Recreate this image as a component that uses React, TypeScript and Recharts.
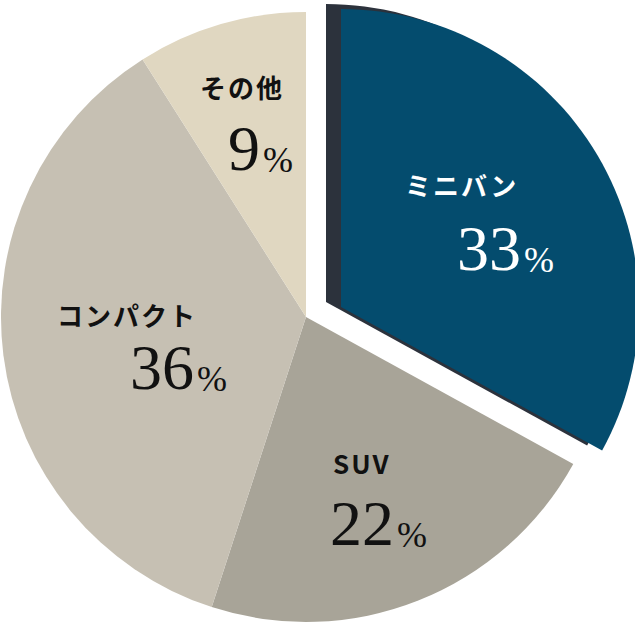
import { PieChart, Pie, Cell } from 'recharts';

// share by body type (%), clockwise from 12 o'clock
const categories = ['ミニバン', 'SUV', 'コンパクト', 'その他'];
const shares = [33, 22, 36, 9];

const data = categories.map((name, i) => ({ name, value: shares[i] }));

const COLORS = ['#044c6e', '#a8a498', '#c6c0b3', '#e0d7c1'];
const SHADOW = '#2c323c';
const EXPLODED = 0; // index of the pulled-out slice

// label placement relative to the centre of the pie that draws it
const LABEL_POS: { [k: number]: { nx: number; ny: number; vx: number; vy: number } } = {
  0: { nx: 64, ny: -111, vx: 116, vy: -37 },
  1: { nx: 27, ny: 157, vx: 24, vy: 228 },
  2: { nx: -249, ny: 9, vx: -176, vy: 72 },
  3: { nx: -106, ny: -219, vx: -78, vy: -147 },
};

const renderLabel = (only: (i: number) => boolean, light: boolean) => (props: any) => {
  const { cx, cy, index } = props;
  if (!only(index)) return null;
  const p = LABEL_POS[index];
  const fill = light ? '#ffffff' : '#111111';
  return (
    <g key={`lbl-${index}`}>
      <text
        x={cx + p.nx}
        y={cy + p.ny}
        fill={fill}
        fontFamily="'Noto Sans CJK JP', 'Noto Sans', sans-serif"
        fontWeight={700}
        fontSize={26}
        letterSpacing={2}
        textAnchor="start"
      >
        {categories[index]}
      </text>
      <text
        x={cx + p.vx}
        y={cy + p.vy}
        fill={fill}
        fontFamily="'Liberation Serif', serif"
        textAnchor="start"
      >
        <tspan fontSize={64}>{shares[index]}</tspan>
        <tspan fontSize={36} dx={3} dy={2}>%</tspan>
      </text>
    </g>
  );
};

export default function App() {
  return (
    <div style={{ position: 'absolute', left: 0, top: 0, width: 635, height: 623, background: '#ffffff' }}>
      <PieChart width={635} height={623} margin={{ top: 0, right: 0, bottom: 0, left: 0 }}>
        {/* main body of the pie, pulled-out slice left empty */}
        <Pie
          data={data}
          dataKey="value"
          nameKey="name"
          cx={306}
          cy={317}
          outerRadius={305}
          startAngle={90}
          endAngle={-270}
          stroke="none"
          labelLine={false}
          label={renderLabel((i) => i !== EXPLODED, false)}
          isAnimationActive={false}
        >
          {data.map((d, i) => (
            <Cell key={d.name} fill={i === EXPLODED ? 'none' : COLORS[i]} />
          ))}
        </Pie>
        {/* dark side of the exploded slice */}
        <Pie
          data={data}
          dataKey="value"
          nameKey="name"
          cx={326}
          cy={302}
          outerRadius={298}
          startAngle={90}
          endAngle={-270}
          stroke="none"
          labelLine={false}
          isAnimationActive={false}
        >
          {data.map((d, i) => (
            <Cell key={d.name} fill={i === EXPLODED ? SHADOW : 'none'} />
          ))}
        </Pie>
        {/* exploded slice face */}
        <Pie
          data={data}
          dataKey="value"
          nameKey="name"
          cx={341}
          cy={307}
          outerRadius={298}
          startAngle={90}
          endAngle={-270}
          stroke="none"
          labelLine={false}
          label={renderLabel((i) => i === EXPLODED, true)}
          isAnimationActive={false}
        >
          {data.map((d, i) => (
            <Cell key={d.name} fill={i === EXPLODED ? COLORS[i] : 'none'} />
          ))}
        </Pie>
      </PieChart>
    </div>
  );
}
